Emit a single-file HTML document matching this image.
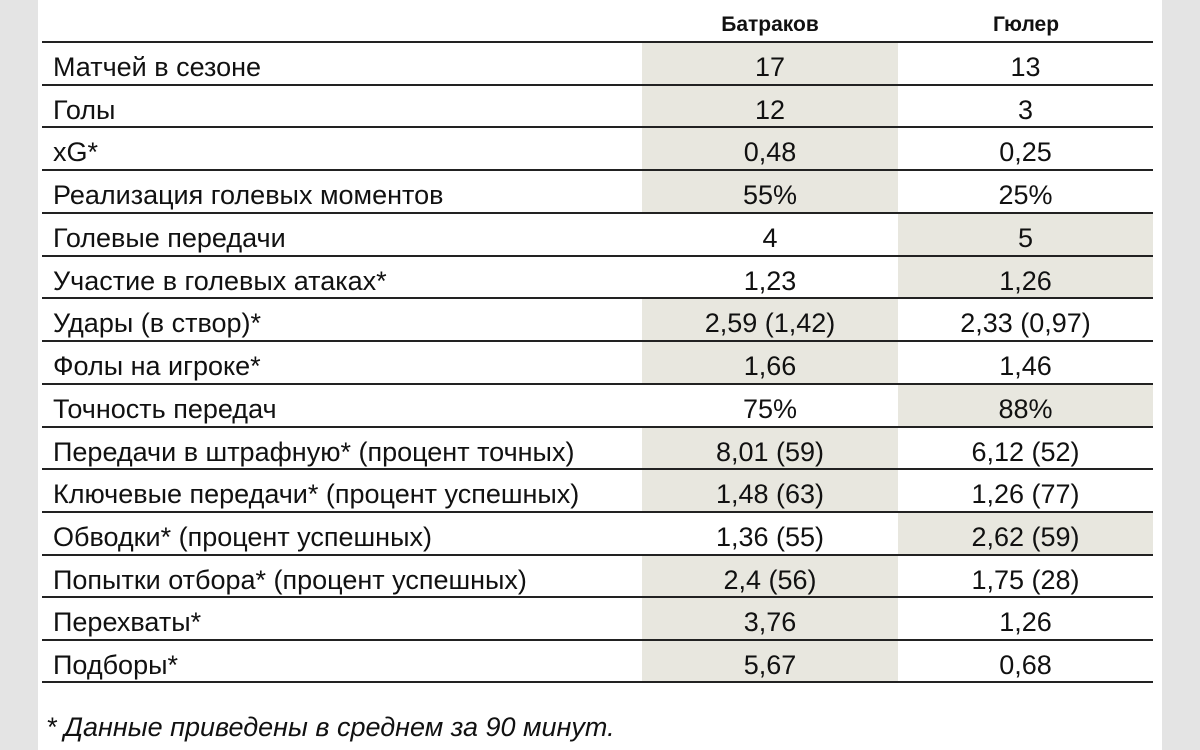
<!DOCTYPE html>
<html><head><meta charset="utf-8"><style>
html,body{margin:0;padding:0;}
body{width:1200px;height:750px;background:#e4e4e4;position:relative;overflow:hidden;font-family:"Liberation Sans",Arial,sans-serif;color:#111;}
#panel{position:absolute;left:38px;top:0;width:1124px;height:750px;background:#fff;}
.h{position:absolute;top:13px;font-weight:bold;font-size:21px;text-align:center;width:256px;}
.row{position:absolute;left:42px;width:1111px;height:42.73px;border-top:2px solid #222;box-sizing:border-box;font-size:27px;}
.row .l{position:absolute;left:11px;top:0;line-height:48px;}
.row .a,.row .b{position:absolute;top:0;width:256px;height:40.7px;line-height:48px;text-align:center;overflow:hidden;}
.row .a{left:600px;}
.row .b{left:856px;width:255px;}
.s{background:#e8e7df;}
.end{position:absolute;left:42px;width:1111px;top:681px;border-top:2px solid #222;}
.foot{position:absolute;left:46px;top:712px;font-style:italic;font-size:27px;}
</style></head><body>
<div id="panel"></div>
<div class="h" style="left:642px">Батраков</div>
<div class="h" style="left:898px">Гюлер</div>
<div class="row" style="top:41px"><span class="l">Матчей в сезоне</span><span class="a s">17</span><span class="b">13</span></div>
<div class="row" style="top:83.73px"><span class="l">Голы</span><span class="a s">12</span><span class="b">3</span></div>
<div class="row" style="top:126.46px"><span class="l">xG*</span><span class="a s">0,48</span><span class="b">0,25</span></div>
<div class="row" style="top:169.19px"><span class="l">Реализация голевых моментов</span><span class="a s">55%</span><span class="b">25%</span></div>
<div class="row" style="top:211.92px"><span class="l">Голевые передачи</span><span class="a">4</span><span class="b s">5</span></div>
<div class="row" style="top:254.65px"><span class="l">Участие в голевых атаках*</span><span class="a">1,23</span><span class="b s">1,26</span></div>
<div class="row" style="top:297.38px"><span class="l">Удары (в створ)*</span><span class="a s">2,59 (1,42)</span><span class="b">2,33 (0,97)</span></div>
<div class="row" style="top:340.11px"><span class="l">Фолы на игроке*</span><span class="a s">1,66</span><span class="b">1,46</span></div>
<div class="row" style="top:382.84px"><span class="l">Точность передач</span><span class="a">75%</span><span class="b s">88%</span></div>
<div class="row" style="top:425.57px"><span class="l">Передачи в штрафную* (процент точных)</span><span class="a s">8,01 (59)</span><span class="b">6,12 (52)</span></div>
<div class="row" style="top:468.3px"><span class="l">Ключевые передачи* (процент успешных)</span><span class="a s">1,48 (63)</span><span class="b">1,26 (77)</span></div>
<div class="row" style="top:511.03px"><span class="l">Обводки* (процент успешных)</span><span class="a">1,36 (55)</span><span class="b s">2,62 (59)</span></div>
<div class="row" style="top:553.76px"><span class="l">Попытки отбора* (процент успешных)</span><span class="a s">2,4 (56)</span><span class="b">1,75 (28)</span></div>
<div class="row" style="top:596.49px"><span class="l">Перехваты*</span><span class="a s">3,76</span><span class="b">1,26</span></div>
<div class="row" style="top:639.22px"><span class="l">Подборы*</span><span class="a s">5,67</span><span class="b">0,68</span></div>
<div class="end"></div>
<div class="foot">* Данные приведены в среднем за 90 минут.</div>
</body></html>
